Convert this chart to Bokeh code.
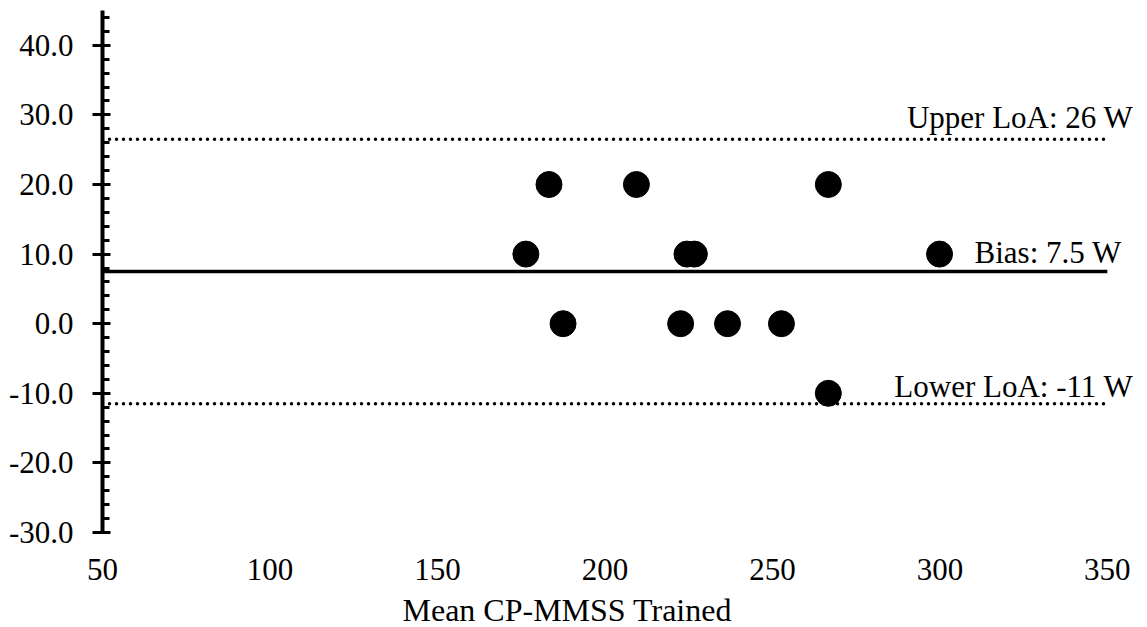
from bokeh.plotting import figure
from bokeh.models import (Range1d, LinearAxis, SingleIntervalTicker, NumeralTickFormatter,
                          Label, Title, ColumnDataSource)
from bokeh.embed import file_html
from bokeh.resources import INLINE

# ---- data ----
mean_cp = [176.4, 183.3, 187.5, 209.4, 222.6, 224.5, 226.7, 236.6, 252.7, 266.7, 266.7, 299.9]
diff = [10, 20, 0, 20, 0, 10, 10, 0, 0, 20, -10, 10]
bias = 7.5
upper_loa = 26.5
lower_loa = -11.5
x_limits = [50, 350]
x_view = [50, 359]
y_limits = [-30, 45]
upper_text = "Upper LoA: 26 W"
bias_text = "Bias: 7.5 W"
lower_text = "Lower LoA: -11 W"
x_title = "Mean CP-MMSS Trained"

FONT = "Liberation Serif"
FS = "31px"

p = figure(frame_width=1035, frame_height=522,
           x_range=Range1d(*x_view), y_range=Range1d(*y_limits),
           output_backend="svg", toolbar_location=None,
           x_axis_location=None, y_axis_location=None,
           min_border_left=102, min_border_right=4, min_border_top=10, min_border_bottom=4)
p.outline_line_color = None
p.grid.visible = False
p.background_fill_color = "white"

# y axis
yax = LinearAxis(ticker=SingleIntervalTicker(interval=10, num_minor_ticks=5),
                 formatter=NumeralTickFormatter(format="0.0"))
yax.axis_line_width = 4
yax.axis_line_color = "black"
yax.major_tick_out = 10
yax.major_tick_in = 8
yax.minor_tick_out = 0
yax.minor_tick_in = 7
yax.major_tick_line_width = 3
yax.minor_tick_line_width = 3
yax.major_label_standoff = 19
yax.major_label_text_font = FONT
yax.major_label_text_font_size = FS
yax.major_label_text_color = "black"
p.add_layout(yax, "left")

# x axis (labels only)
xax = LinearAxis(ticker=SingleIntervalTicker(interval=50, num_minor_ticks=0),
                 formatter=NumeralTickFormatter(format="0"))
xax.axis_line_color = None
xax.major_tick_line_color = None
xax.minor_tick_line_color = None
xax.major_tick_out = 0
xax.major_tick_in = 0
xax.major_label_standoff = 26
xax.major_label_text_font = FONT
xax.major_label_text_font_size = FS
xax.major_label_text_color = "black"
p.add_layout(xax, "below")

p.add_layout(Title(text=x_title, align="left", offset=300, standoff=14, text_font=FONT,
                   text_font_size="32px", text_font_style="normal", text_color="black"), "below")

# reference lines
p.line(x=x_limits, y=[upper_loa, upper_loa], line_color="black", line_width=3.5,
       line_dash="0 7", line_cap="round")
p.line(x=x_limits, y=[lower_loa, lower_loa], line_color="black", line_width=3.5,
       line_dash="0 7", line_cap="round")
p.line(x=x_limits, y=[bias, bias], line_color="black", line_width=3.5)

# points
src = ColumnDataSource(dict(x=mean_cp, y=diff))
p.scatter("x", "y", source=src, size=26, fill_color="black", line_color="black")

# labels
p.add_layout(Label(x=x_limits[1], y=upper_loa, text=upper_text, text_align="right",
                   text_baseline="alphabetic", x_offset=26, y_offset=22,
                   text_font=FONT, text_font_size=FS, text_color="black"))
p.add_layout(Label(x=mean_cp[-1], y=diff[-1], text=bias_text, text_align="left",
                   text_baseline="alphabetic", x_offset=35, y_offset=2,
                   text_font=FONT, text_font_size=FS, text_color="black"))
p.add_layout(Label(x=x_limits[1], y=lower_loa, text=lower_text, text_align="right",
                   text_baseline="alphabetic", x_offset=26, y_offset=17,
                   text_font=FONT, text_font_size=FS, text_color="black"))

open("out.html", "w").write(file_html(p, INLINE))
